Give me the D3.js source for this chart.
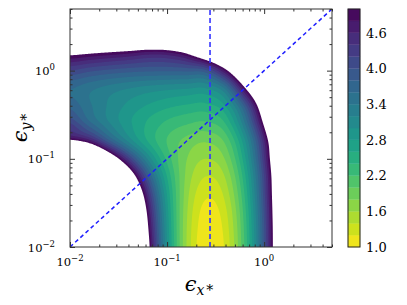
<!DOCTYPE html>
<html>
<head>
<meta charset="utf-8">
<script src="https://cdn.jsdelivr.net/npm/d3@7"></script>
<style>
  body { margin: 0; background: #fff; }
  svg { display: block; }
  text { font-family: "DejaVu Serif", serif; fill: #000; }
</style>
</head>
<body>
<svg id="chart" width="407" height="305"></svg>
<script>
// grid nodes, log10 of eps_x* (columns) and eps_y* (rows)
var logX = [-2.0, -1.8, -1.6, -1.4, -1.2, -1.0, -0.8, -0.6, -0.4, -0.2, 0.0, 0.2, 0.4, 0.6, 0.8];
var logY = [-2.0, -1.8, -1.6, -1.4, -1.2, -1.0, -0.8, -0.6, -0.4, -0.2, 0.0, 0.2, 0.4, 0.6, 0.8];

// field values, one row per logY entry
var grid = [
  [10,   10,   10,   8.34, 5.26, 3.01, 1.60, 1.02, 1.24, 2.23, 3.97, 6.47, 9.73, 10, 10],
  [10,   10,   10,   8.03, 5.10, 2.96, 1.61, 1.06, 1.28, 2.26, 3.99, 6.47, 9.70, 10, 10],
  [10,   10,   10,   7.60, 4.88, 2.89, 1.64, 1.12, 1.35, 2.32, 4.04, 6.51, 9.73, 10, 10],
  [10,   10,   9.9,  6.87, 4.51, 2.78, 1.69, 1.24, 1.47, 2.42, 4.12, 6.54, 9.70, 10, 10],
  [10,   10,   8.1,  5.76, 3.93, 2.59, 1.75, 1.40, 1.62, 2.55, 4.20, 6.57, 9.65, 10, 10],
  [9.66, 7.57, 5.80, 4.33, 3.18, 2.34, 1.81, 1.60, 1.82, 2.74, 4.38, 6.73, 9.80, 10, 10],
  [5.20, 4.76, 3.89, 3.17, 2.60, 2.19, 1.93, 1.82, 2.05, 2.96, 4.58, 6.90, 9.93, 10, 10],
  [4.21, 3.68, 3.23, 2.86, 2.57, 2.35, 2.22, 2.16, 2.40, 3.38, 5.11, 7.59, 10,   10, 10],
  [3.75, 3.44, 3.17, 2.95, 2.78, 2.65, 2.57, 2.54, 2.80, 3.87, 5.75, 8.46, 10,   10, 10],
  [3.62, 3.46, 3.32, 3.21, 3.12, 3.06, 3.02, 3.00, 3.45, 4.94, 6.60, 8.20, 9.50, 10, 10],
  [4.20, 4.05, 3.95, 3.88, 3.84, 3.83, 3.85, 3.95, 4.85, 6.30, 7.80, 9.20, 10,   10, 10],
  [5.15, 5.05, 4.95, 4.85, 4.72, 4.75, 5.05, 5.75, 6.60, 7.50, 8.80, 10,   10,   10, 10],
  [6.5,  6.5,  6.5,  6.5,  6.5,  6.6,  7.0,  7.5,  8.0,  9.0,  10,   10,   10,   10, 10],
  [7.8,  7.8,  7.8,  7.8,  7.8,  8.0,  8.5,  9.0,  9.5,  10,   10,   10,   10,   10, 10],
  [9,    9,    9,    9,    9,    9.2,  9.5,  10,   10,   10,   10,   10,   10,   10, 10]
];

var levels = [1.0, 1.2, 1.4, 1.6, 1.8, 2.0, 2.2, 2.4, 2.6, 2.8, 3.0,
              3.2, 3.4, 3.6, 3.8, 4.0, 4.2, 4.4, 4.6, 4.8, 5.0];
var cbarTicks = [1.0, 1.6, 2.2, 2.8, 3.4, 4.0, 4.6];
var decadeTicks = [0.01, 0.1, 1];
var axisRange = [0.01, 5];
var diagonal = [0.01, 5];      // eps_y* = eps_x*
var markerX = 0.277;           // vertical reference line

var plot = {left: 70, right: 332, top: 9, bottom: 247};
var cbar = {left: 348, right: 360};

var svg = d3.select('#chart');

var x = d3.scaleLog().domain(axisRange).range([plot.left, plot.right]);
var y = d3.scaleLog().domain(axisRange).range([plot.bottom, plot.top]);
var c = d3.scaleLinear().domain([levels[0], levels[levels.length - 1]]).range([plot.bottom, plot.top]);

function bandColor(k) {
    var mid = (levels[k] + levels[k + 1]) / 2;
    return d3.interpolateViridis(1 - c.copy().range([0, 1])(mid));
}

// smooth (Catmull-Rom) resampling of the coarse grid
function cr(p0, p1, p2, p3, t) {
    return 0.5 * (2 * p1 + (p2 - p0) * t + (2 * p0 - 5 * p1 + 4 * p2 - p3) * t * t +
                  (3 * p1 - p0 - 3 * p2 + p3) * t * t * t);
}
function node(i, j) {
    i = Math.max(0, Math.min(logX.length - 1, i));
    j = Math.max(0, Math.min(logY.length - 1, j));
    return grid[j][i];
}
function sampleAt(u, v) {
    var fu = (u - logX[0]) / (logX[1] - logX[0]);
    var fv = (v - logY[0]) / (logY[1] - logY[0]);
    var i = Math.max(0, Math.min(logX.length - 2, Math.floor(fu)));
    var j = Math.max(0, Math.min(logY.length - 2, Math.floor(fv)));
    var col = [];
    for (var dj = -1; dj <= 2; dj++) {
        col.push(cr(node(i - 1, j + dj), node(i, j + dj), node(i + 1, j + dj), node(i + 2, j + dj), fu - i));
    }
    return cr(col[0], col[1], col[2], col[3], fv - j);
}

var res = 0.01;
var nx = Math.round((logX[logX.length - 1] - logX[0]) / res) + 1;
var ny = Math.round((logY[logY.length - 1] - logY[0]) / res) + 1;
var values = new Array(nx * ny);
for (var j = 0; j < ny; j++) {
    for (var i = 0; i < nx; i++) {
        values[i + j * nx] = sampleAt(logX[0] + i * res, logY[0] + j * res);
    }
}

var contours = d3.contours().size([nx, ny]).thresholds(levels.slice(1))(values);

var proj = d3.geoTransform({
    point: function(gx, gy) {
        var u = logX[0] + (gx - 0.5) * res;
        var v = logY[0] + (gy - 0.5) * res;
        this.stream.point(x(Math.pow(10, u)), y(Math.pow(10, v)));
    }
});
var path = d3.geoPath(proj);

svg.append('clipPath').attr('id', 'clip')
    .append('rect')
    .attr('x', plot.left).attr('y', plot.top)
    .attr('width', plot.right - plot.left).attr('height', plot.bottom - plot.top);

var field = svg.append('g').attr('clip-path', 'url(#clip)');
field.append('rect')
    .attr('x', plot.left).attr('y', plot.top)
    .attr('width', plot.right - plot.left).attr('height', plot.bottom - plot.top)
    .attr('fill', bandColor(0));
field.selectAll('path.band')
    .data(contours)
    .enter().append('path')
    .attr('class', 'band')
    .attr('d', path)
    .attr('fill', function(d, k) { return k < levels.length - 2 ? bandColor(k + 1) : '#ffffff'; });

// reference lines
field.append('line')
    .attr('x1', x(diagonal[0])).attr('y1', y(diagonal[0]))
    .attr('x2', x(diagonal[1])).attr('y2', y(diagonal[1]))
    .attr('stroke', '#1f1fff').attr('stroke-width', 1.5)
    .attr('stroke-dasharray', '4,3');
field.append('line')
    .attr('x1', x(markerX)).attr('y1', y(axisRange[0]))
    .attr('x2', x(markerX)).attr('y2', y(axisRange[1]))
    .attr('stroke', '#3535ff').attr('stroke-width', 1.6)
    .attr('stroke-dasharray', '5,3');

// ticks (inside, all four sides)
var minor = [];
decadeTicks.forEach(function(d) {
    for (var m = 2; m <= 9; m++) { if (m * d <= axisRange[1]) minor.push(m * d); }
});

function tickAxis(axisFn, scale, tv, size, tr) {
    var g = svg.append('g').attr('transform', tr)
        .call(axisFn(scale).tickValues(tv).tickSizeInner(-size).tickSizeOuter(0).tickFormat(''));
    g.select('.domain').remove();
    g.selectAll('line').attr('stroke', '#333');
}
[[decadeTicks, 5], [minor, 2.5]].forEach(function(p) {
    tickAxis(d3.axisBottom, x, p[0], p[1], 'translate(0,' + plot.bottom + ')');
    tickAxis(d3.axisTop, x, p[0], p[1], 'translate(0,' + plot.top + ')');
    tickAxis(d3.axisLeft, y, p[0], p[1], 'translate(' + plot.left + ',0)');
    tickAxis(d3.axisRight, y, p[0], p[1], 'translate(' + plot.right + ',0)');
});

svg.append('rect')
    .attr('x', plot.left).attr('y', plot.top)
    .attr('width', plot.right - plot.left).attr('height', plot.bottom - plot.top)
    .attr('fill', 'none').attr('stroke', '#333').attr('stroke-width', 1);

// tick labels 10^n
function powLabel(sel, d) {
    var e = Math.round(Math.log10(d));
    sel.append('tspan').text('10');
    sel.append('tspan').attr('dy', -5).attr('font-size', '8.5px')
        .text(e < 0 ? '\u2212' + Math.abs(e) : String(e));
}
decadeTicks.forEach(function(d) {
    var t = svg.append('text')
        .attr('x', x(d)).attr('y', 266)
        .attr('text-anchor', 'middle').attr('font-size', '11.5px');
    powLabel(t, d);
    var t2 = svg.append('text')
        .attr('x', 55).attr('y', y(d) + 4.5)
        .attr('text-anchor', 'end').attr('font-size', '11.5px');
    powLabel(t2, d);
});

// axis labels
svg.append('text')
    .attr('x', 199).attr('y', 291)
    .attr('text-anchor', 'middle').attr('font-size', '21px').attr('font-style', 'italic')
    .call(function(t) {
        t.append('tspan').text('\u03f5');
        t.append('tspan').attr('font-size', '14px').attr('dy', 4).text('x');
        t.append('tspan').attr('font-size', '14px').attr('font-style', 'normal').attr('dx', 2).text('*');
    });
svg.append('text')
    .attr('transform', 'translate(27,128) rotate(-90)')
    .attr('text-anchor', 'middle').attr('font-size', '21px').attr('font-style', 'italic')
    .call(function(t) {
        t.append('tspan').text('\u03f5');
        t.append('tspan').attr('font-size', '14px').attr('dy', 4).text('y');
        t.append('tspan').attr('font-size', '14px').attr('font-style', 'normal').attr('dx', 2).text('*');
    });

// colorbar
var cb = svg.append('g');
cb.selectAll('rect.cb')
    .data(d3.range(levels.length - 1))
    .enter().append('rect')
    .attr('class', 'cb')
    .attr('x', cbar.left)
    .attr('width', cbar.right - cbar.left)
    .attr('y', function(k) { return c(levels[k + 1]); })
    .attr('height', function(k) { return c(levels[k]) - c(levels[k + 1]); })
    .attr('fill', function(k) { return bandColor(k); })
    .attr('stroke', function(k) { return bandColor(k); })
    .attr('stroke-width', 0.3);
cb.append('rect')
    .attr('x', cbar.left).attr('y', plot.top)
    .attr('width', cbar.right - cbar.left).attr('height', plot.bottom - plot.top)
    .attr('fill', 'none').attr('stroke', '#222').attr('stroke-width', 1);
cbarTicks.forEach(function(v) {
    svg.append('text')
        .attr('x', 366).attr('y', c(v) + 4.7)
        .attr('font-size', '13px')
        .text(d3.format('.1f')(v));
});
</script>
</body>
</html>
